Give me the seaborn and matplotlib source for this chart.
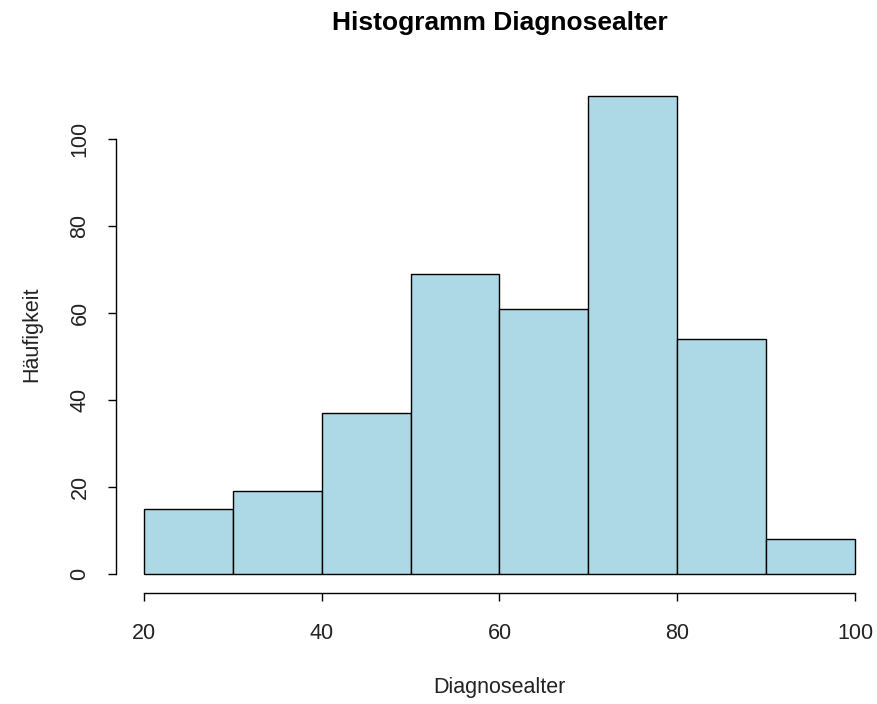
import numpy as np
import matplotlib
matplotlib.use("Agg")
import matplotlib.pyplot as plt
import seaborn as sns

bin_edges = [20, 30, 40, 50, 60, 70, 80, 90, 100]
counts = [15, 19, 37, 69, 61, 110, 54, 8]
x_ticks = [20, 40, 60, 80, 100]
y_ticks = [0, 20, 40, 60, 80, 100]

sns.set_theme(style="white")
plt.rcParams['font.family'] = ['Liberation Sans', 'DejaVu Sans']

W, H = 877, 704
fig = plt.figure(figsize=(W / 100, H / 100), dpi=100)
# axes box in pixels
left, right, top, bottom = 115.6, 883.4, 76.4, 593.0
ax = fig.add_axes([left / W, 1 - bottom / H, (right - left) / W, (bottom - top) / H])

centers = [(a + b) / 2 for a, b in zip(bin_edges[:-1], bin_edges[1:])]
sns.histplot(x=centers, weights=counts, bins=bin_edges, color="#ADD8E6",
             edgecolor="black", linewidth=1.0, alpha=1, ax=ax)

ymax = max(counts)
ax.set_xlim(20 - 0.04 * 80, 100 + 0.04 * 80)
ax.set_ylim(-0.04 * ymax, ymax * 1.04)

for s in ["top", "right"]:
    ax.spines[s].set_visible(False)
for s in ["left", "bottom"]:
    ax.spines[s].set_visible(True)
    ax.spines[s].set_color("black")
    ax.spines[s].set_linewidth(1.0)
ax.spines["left"].set_bounds(0, 100)
ax.spines["bottom"].set_bounds(20, 100)

fs = 15.5
ax.set_xticks(x_ticks)
ax.set_yticks(y_ticks)
ax.set_xticklabels([str(v) for v in x_ticks], fontsize=fs)
ax.set_yticklabels([str(v) for v in y_ticks], fontsize=fs, rotation=90, va="center")
ax.tick_params(axis="both", direction="out", length=5.5, width=1.0, color="black",
               labelcolor="#222222", bottom=True, left=True)
ax.tick_params(axis="x", pad=16)
ax.tick_params(axis="y", pad=12.5)

ax.set_xlabel("Diagnosealter", fontsize=fs, color="#222222", labelpad=24)
ax.set_ylabel("Häufigkeit", fontsize=fs, color="#222222", labelpad=20)
ax.grid(False)

fig.text(499.5 / W, 1 - 23 / H, "Histogramm Diagnosealter", ha="center", va="center",
         fontsize=19, fontweight="bold", color="black")

fig.savefig("out.png", dpi=100, facecolor="white")
